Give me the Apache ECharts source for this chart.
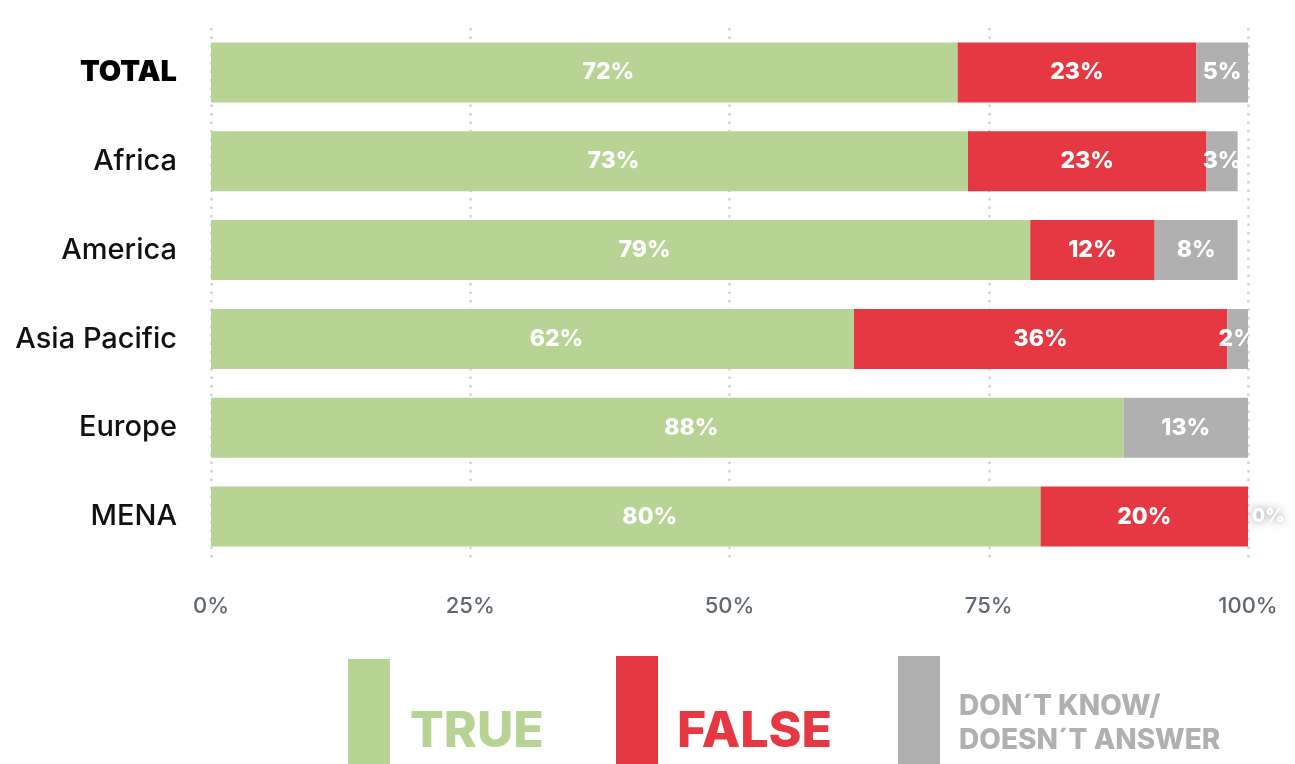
<!DOCTYPE html>
<html>
<head>
<meta charset="utf-8">
<title>True / False by region</title>
<script src="https://cdn.jsdelivr.net/npm/echarts@6/dist/echarts.min.js"></script>
<style>
  html, body { margin: 0; padding: 0; background: #ffffff; }
  #chart { width: 1295px; height: 764px; }
</style>
</head>
<body>
<div id="chart"></div>
<script>
// Regions, top to bottom
const regions = ['TOTAL', 'Africa', 'America', 'Asia Pacific', 'Europe', 'MENA'];

// Share of answers per region (%)
const trueValues = [72, 73, 79, 62, 88, 80];
const falseValues = [23, 23, 12, 36, null, 20];
const dontKnowValues = [5, 3, 8, 2, 13, 0];

// Axis ticks (%)
const xTicks = [0, 25, 50, 75, 100];

const GREEN = '#b8d495';
const RED = '#e63843';
const GREY = '#b0b0b0';
const FONT = 'Inter, "Noto Sans", sans-serif';

const chart = echarts.init(document.getElementById('chart'), null, { renderer: 'canvas' });

const valueLabel = {
  show: true,
  position: 'inside',
  color: '#ffffff',
  fontFamily: FONT,
  fontWeight: 800,
  fontSize: 23,
  formatter: p => (p.value == null ? '' : p.value + '%')
};

function segment(name, values, color, labelExtra) {
  return {
    name: name,
    type: 'bar',
    stack: 'share',
    barWidth: '67.5%',
    itemStyle: { color: color },
    label: Object.assign({}, valueLabel, labelExtra || {}),
    emphasis: { disabled: true },
    data: values.slice()
  };
}

// A zero "don't know" share gets its label just outside the bar end
const dontKnowData = dontKnowValues.map(v => {
  if (v === 0) {
    return {
      value: v,
      label: {
        position: 'right',
        distance: 4,
        fontSize: 19,
        textShadowColor: 'rgba(0,0,0,0.45)',
        textShadowBlur: 8
      }
    };
  }
  return v;
});

const option = {
  animation: false,
  backgroundColor: '#ffffff',
  grid: { left: 211, right: 47, top: 28, height: 533, containLabel: false },
  xAxis: {
    type: 'value',
    min: xTicks[0],
    max: xTicks[xTicks.length - 1],
    interval: xTicks[1] - xTicks[0],
    axisLine: { show: false },
    axisTick: { show: false },
    axisLabel: {
      formatter: '{value}%',
      color: '#5f6770',
      fontFamily: FONT,
      fontWeight: 500,
      fontSize: 22,
      margin: 34
    },
    splitLine: {
      show: true,
      lineStyle: { color: '#d2d2d2', width: 2.5, type: [2.5, 6] }
    }
  },
  yAxis: {
    type: 'category',
    inverse: true,
    data: regions,
    axisLine: { show: false },
    axisTick: { show: false },
    axisLabel: {
      color: '#111111',
      fontFamily: FONT,
      fontWeight: 500,
      fontSize: 29,
      margin: 34,
      formatter: v => (v === 'TOTAL' ? '{b|' + v + '}' : v),
      rich: {
        b: { fontFamily: FONT, fontSize: 29, fontWeight: 900, color: '#000000' }
      }
    }
  },
  series: [
    segment('TRUE', trueValues, GREEN, { offset: [24, 0] }),
    segment('FALSE', falseValues, RED),
    Object.assign(segment("DON´T KNOW/ DOESN´T ANSWER", dontKnowValues, GREY), { data: dontKnowData })
  ],
  graphic: [
    { type: 'rect', left: 348, top: 659, shape: { width: 42, height: 110 }, style: { fill: GREEN } },
    {
      type: 'text', left: 410, top: 707,
      style: { text: 'TRUE', fill: GREEN, font: '800 50px ' + FONT }
    },
    { type: 'rect', left: 616, top: 656, shape: { width: 42, height: 110 }, style: { fill: RED } },
    {
      type: 'text', left: 677, top: 707,
      style: { text: 'FALSE', fill: RED, font: '800 50px ' + FONT }
    },
    { type: 'rect', left: 898, top: 656, shape: { width: 42, height: 110 }, style: { fill: GREY } },
    {
      type: 'text', left: 959, top: 690,
      style: {
        text: 'DON´T KNOW/\nDOESN´T ANSWER',
        fill: GREY,
        font: '800 28px ' + FONT,
        lineHeight: 34
      }
    }
  ]
};

chart.setOption(option);
</script>
</body>
</html>
